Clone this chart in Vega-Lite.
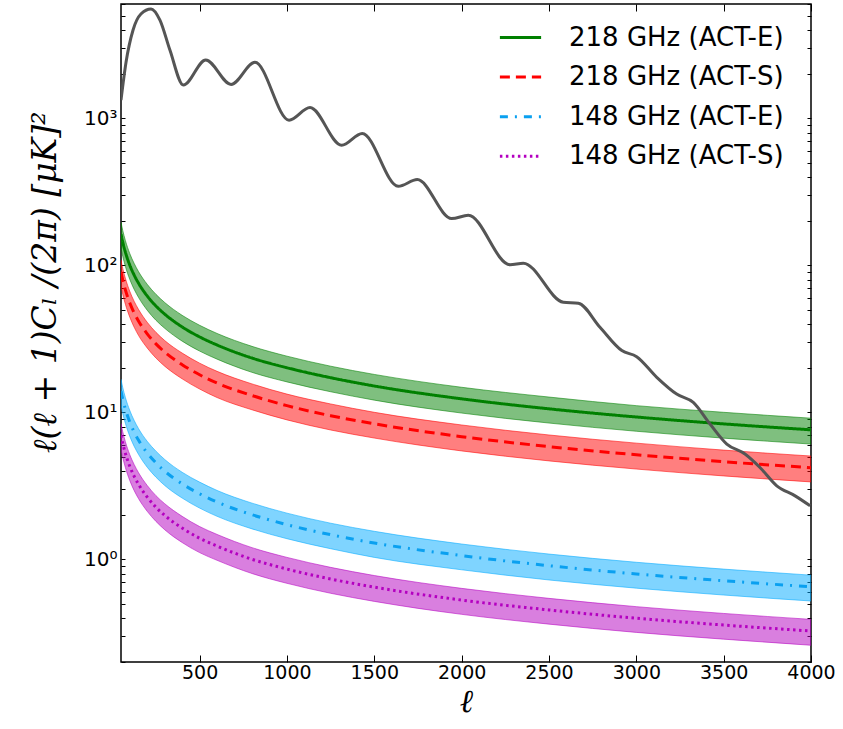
{
  "$schema": "https://vega.github.io/schema/vega-lite/v6.json",
  "width": 690,
  "height": 658,
  "autosize": {"type": "none"},
  "padding": {"left": 121, "top": 4, "right": 32, "bottom": 67},
  "background": "white",
  "config": {
    "font": "DejaVu Sans",
    "view": {"stroke": "black", "strokeWidth": 1.5},
    "axis": {
      "grid": false,
      "domain": false,
      "tickColor": "black",
      "tickWidth": 1,
      "labelColor": "black",
      "labelFont": "DejaVu Sans",
      "labelFontSize": 19,
      "titleColor": "black"
    },
    "legend": {
      "orient": "none",
      "legendX": 377,
      "legendY": 11,
      "title": null,
      "symbolType": "stroke",
      "symbolSize": 1700,
      "symbolStrokeWidth": 3,
      "labelFontSize": 26,
      "labelFont": "DejaVu Sans",
      "labelColor": "black",
      "labelOffset": 26,
      "labelLimit": 400,
      "rowPadding": 3.6
    }
  },
  "datasets": {
    "bands": [
      {"ell": 50, "series": "218 GHz (ACT-E)", "mid": 163, "lo": 130.6, "hi": 196},
      {"ell": 60, "series": "218 GHz (ACT-E)", "mid": 144, "lo": 115.2, "hi": 172.8},
      {"ell": 75, "series": "218 GHz (ACT-E)", "mid": 123, "lo": 98.4, "hi": 147.6},
      {"ell": 100, "series": "218 GHz (ACT-E)", "mid": 100.5, "lo": 80.4, "hi": 120.6},
      {"ell": 125, "series": "218 GHz (ACT-E)", "mid": 86, "lo": 68.8, "hi": 103.2},
      {"ell": 150, "series": "218 GHz (ACT-E)", "mid": 75.7, "lo": 60.6, "hi": 90.8},
      {"ell": 200, "series": "218 GHz (ACT-E)", "mid": 61.9, "lo": 49.5, "hi": 74.3},
      {"ell": 250, "series": "218 GHz (ACT-E)", "mid": 52.9, "lo": 42.3, "hi": 63.5},
      {"ell": 300, "series": "218 GHz (ACT-E)", "mid": 46.6, "lo": 37.3, "hi": 55.9},
      {"ell": 400, "series": "218 GHz (ACT-E)", "mid": 38.1, "lo": 30.5, "hi": 45.7},
      {"ell": 500, "series": "218 GHz (ACT-E)", "mid": 32.6, "lo": 26.1, "hi": 39.1},
      {"ell": 600, "series": "218 GHz (ACT-E)", "mid": 28.7, "lo": 23.0, "hi": 34.4},
      {"ell": 800, "series": "218 GHz (ACT-E)", "mid": 23.4, "lo": 18.7, "hi": 28.1},
      {"ell": 1000, "series": "218 GHz (ACT-E)", "mid": 20.1, "lo": 16.1, "hi": 24.1},
      {"ell": 1250, "series": "218 GHz (ACT-E)", "mid": 17.2, "lo": 13.8, "hi": 20.6},
      {"ell": 1500, "series": "218 GHz (ACT-E)", "mid": 15.1, "lo": 12.1, "hi": 18.1},
      {"ell": 2000, "series": "218 GHz (ACT-E)", "mid": 12.35, "lo": 9.88, "hi": 14.8},
      {"ell": 2500, "series": "218 GHz (ACT-E)", "mid": 10.56, "lo": 8.45, "hi": 12.7},
      {"ell": 3000, "series": "218 GHz (ACT-E)", "mid": 9.29, "lo": 7.43, "hi": 11.1},
      {"ell": 3500, "series": "218 GHz (ACT-E)", "mid": 8.34, "lo": 6.67, "hi": 10.0},
      {"ell": 4000, "series": "218 GHz (ACT-E)", "mid": 7.6, "lo": 6.08, "hi": 9.12},

      {"ell": 50, "series": "218 GHz (ACT-S)", "mid": 90.3, "lo": 72.2, "hi": 108.4},
      {"ell": 60, "series": "218 GHz (ACT-S)", "mid": 79.4, "lo": 63.5, "hi": 95.3},
      {"ell": 75, "series": "218 GHz (ACT-S)", "mid": 68.0, "lo": 54.4, "hi": 81.6},
      {"ell": 100, "series": "218 GHz (ACT-S)", "mid": 55.6, "lo": 44.5, "hi": 66.7},
      {"ell": 125, "series": "218 GHz (ACT-S)", "mid": 47.5, "lo": 38.0, "hi": 57.0},
      {"ell": 150, "series": "218 GHz (ACT-S)", "mid": 41.8, "lo": 33.4, "hi": 50.2},
      {"ell": 200, "series": "218 GHz (ACT-S)", "mid": 34.2, "lo": 27.4, "hi": 41.0},
      {"ell": 250, "series": "218 GHz (ACT-S)", "mid": 29.2, "lo": 23.4, "hi": 35.0},
      {"ell": 300, "series": "218 GHz (ACT-S)", "mid": 25.7, "lo": 20.6, "hi": 30.8},
      {"ell": 400, "series": "218 GHz (ACT-S)", "mid": 21.1, "lo": 16.9, "hi": 25.3},
      {"ell": 500, "series": "218 GHz (ACT-S)", "mid": 18.0, "lo": 14.4, "hi": 21.6},
      {"ell": 600, "series": "218 GHz (ACT-S)", "mid": 15.8, "lo": 12.6, "hi": 19.0},
      {"ell": 800, "series": "218 GHz (ACT-S)", "mid": 13.0, "lo": 10.4, "hi": 15.6},
      {"ell": 1000, "series": "218 GHz (ACT-S)", "mid": 11.1, "lo": 8.88, "hi": 13.3},
      {"ell": 1250, "series": "218 GHz (ACT-S)", "mid": 9.48, "lo": 7.58, "hi": 11.4},
      {"ell": 1500, "series": "218 GHz (ACT-S)", "mid": 8.35, "lo": 6.68, "hi": 10.0},
      {"ell": 2000, "series": "218 GHz (ACT-S)", "mid": 6.83, "lo": 5.46, "hi": 8.2},
      {"ell": 2500, "series": "218 GHz (ACT-S)", "mid": 5.84, "lo": 4.67, "hi": 7.01},
      {"ell": 3000, "series": "218 GHz (ACT-S)", "mid": 5.14, "lo": 4.11, "hi": 6.17},
      {"ell": 3500, "series": "218 GHz (ACT-S)", "mid": 4.61, "lo": 3.69, "hi": 5.53},
      {"ell": 4000, "series": "218 GHz (ACT-S)", "mid": 4.2, "lo": 3.36, "hi": 5.04},

      {"ell": 50, "series": "148 GHz (ACT-E)", "mid": 13.97, "lo": 11.18, "hi": 16.76},
      {"ell": 60, "series": "148 GHz (ACT-E)", "mid": 12.29, "lo": 9.83, "hi": 14.75},
      {"ell": 75, "series": "148 GHz (ACT-E)", "mid": 10.52, "lo": 8.42, "hi": 12.62},
      {"ell": 100, "series": "148 GHz (ACT-E)", "mid": 8.6, "lo": 6.88, "hi": 10.32},
      {"ell": 125, "series": "148 GHz (ACT-E)", "mid": 7.35, "lo": 5.88, "hi": 8.82},
      {"ell": 150, "series": "148 GHz (ACT-E)", "mid": 6.47, "lo": 5.18, "hi": 7.76},
      {"ell": 200, "series": "148 GHz (ACT-E)", "mid": 5.29, "lo": 4.23, "hi": 6.35},
      {"ell": 250, "series": "148 GHz (ACT-E)", "mid": 4.53, "lo": 3.62, "hi": 5.44},
      {"ell": 300, "series": "148 GHz (ACT-E)", "mid": 3.98, "lo": 3.18, "hi": 4.78},
      {"ell": 400, "series": "148 GHz (ACT-E)", "mid": 3.26, "lo": 2.61, "hi": 3.91},
      {"ell": 500, "series": "148 GHz (ACT-E)", "mid": 2.79, "lo": 2.23, "hi": 3.35},
      {"ell": 600, "series": "148 GHz (ACT-E)", "mid": 2.45, "lo": 1.96, "hi": 2.94},
      {"ell": 800, "series": "148 GHz (ACT-E)", "mid": 2.01, "lo": 1.61, "hi": 2.41},
      {"ell": 1000, "series": "148 GHz (ACT-E)", "mid": 1.72, "lo": 1.38, "hi": 2.06},
      {"ell": 1250, "series": "148 GHz (ACT-E)", "mid": 1.47, "lo": 1.18, "hi": 1.76},
      {"ell": 1500, "series": "148 GHz (ACT-E)", "mid": 1.29, "lo": 1.03, "hi": 1.55},
      {"ell": 2000, "series": "148 GHz (ACT-E)", "mid": 1.06, "lo": 0.848, "hi": 1.27},
      {"ell": 2500, "series": "148 GHz (ACT-E)", "mid": 0.904, "lo": 0.723, "hi": 1.085},
      {"ell": 3000, "series": "148 GHz (ACT-E)", "mid": 0.795, "lo": 0.636, "hi": 0.954},
      {"ell": 3500, "series": "148 GHz (ACT-E)", "mid": 0.714, "lo": 0.571, "hi": 0.857},
      {"ell": 4000, "series": "148 GHz (ACT-E)", "mid": 0.65, "lo": 0.52, "hi": 0.78},

      {"ell": 50, "series": "148 GHz (ACT-S)", "mid": 6.98, "lo": 5.58, "hi": 8.38},
      {"ell": 60, "series": "148 GHz (ACT-S)", "mid": 6.15, "lo": 4.92, "hi": 7.38},
      {"ell": 75, "series": "148 GHz (ACT-S)", "mid": 5.26, "lo": 4.21, "hi": 6.31},
      {"ell": 100, "series": "148 GHz (ACT-S)", "mid": 4.3, "lo": 3.44, "hi": 5.16},
      {"ell": 125, "series": "148 GHz (ACT-S)", "mid": 3.68, "lo": 2.94, "hi": 4.42},
      {"ell": 150, "series": "148 GHz (ACT-S)", "mid": 3.24, "lo": 2.59, "hi": 3.89},
      {"ell": 200, "series": "148 GHz (ACT-S)", "mid": 2.65, "lo": 2.12, "hi": 3.18},
      {"ell": 250, "series": "148 GHz (ACT-S)", "mid": 2.26, "lo": 1.81, "hi": 2.71},
      {"ell": 300, "series": "148 GHz (ACT-S)", "mid": 1.99, "lo": 1.59, "hi": 2.39},
      {"ell": 400, "series": "148 GHz (ACT-S)", "mid": 1.63, "lo": 1.3, "hi": 1.96},
      {"ell": 500, "series": "148 GHz (ACT-S)", "mid": 1.39, "lo": 1.11, "hi": 1.67},
      {"ell": 600, "series": "148 GHz (ACT-S)", "mid": 1.23, "lo": 0.984, "hi": 1.476},
      {"ell": 800, "series": "148 GHz (ACT-S)", "mid": 1.0, "lo": 0.8, "hi": 1.2},
      {"ell": 1000, "series": "148 GHz (ACT-S)", "mid": 0.858, "lo": 0.686, "hi": 1.03},
      {"ell": 1250, "series": "148 GHz (ACT-S)", "mid": 0.734, "lo": 0.587, "hi": 0.881},
      {"ell": 1500, "series": "148 GHz (ACT-S)", "mid": 0.646, "lo": 0.517, "hi": 0.775},
      {"ell": 2000, "series": "148 GHz (ACT-S)", "mid": 0.528, "lo": 0.422, "hi": 0.634},
      {"ell": 2500, "series": "148 GHz (ACT-S)", "mid": 0.452, "lo": 0.362, "hi": 0.542},
      {"ell": 3000, "series": "148 GHz (ACT-S)", "mid": 0.397, "lo": 0.318, "hi": 0.476},
      {"ell": 3500, "series": "148 GHz (ACT-S)", "mid": 0.357, "lo": 0.286, "hi": 0.428},
      {"ell": 4000, "series": "148 GHz (ACT-S)", "mid": 0.325, "lo": 0.26, "hi": 0.39}
    ],
    "cmb": [
      {"ell": 50, "dl": 1331},
      {"ell": 79, "dl": 2416},
      {"ell": 119, "dl": 3993},
      {"ell": 164, "dl": 5130},
      {"ell": 222, "dl": 5550},
      {"ell": 273, "dl": 4660},
      {"ell": 330, "dl": 2915},
      {"ell": 407, "dl": 1684},
      {"ell": 535, "dl": 2495},
      {"ell": 680, "dl": 1702},
      {"ell": 817, "dl": 2405},
      {"ell": 1012, "dl": 972},
      {"ell": 1132, "dl": 1186},
      {"ell": 1313, "dl": 656},
      {"ell": 1431, "dl": 789},
      {"ell": 1637, "dl": 345},
      {"ell": 1746, "dl": 383},
      {"ell": 1943, "dl": 208},
      {"ell": 2038, "dl": 219},
      {"ell": 2277, "dl": 101},
      {"ell": 2353, "dl": 103.5},
      {"ell": 2582, "dl": 56.1},
      {"ell": 2668, "dl": 55.2},
      {"ell": 2792, "dl": 37.9},
      {"ell": 2917, "dl": 26.3},
      {"ell": 3002, "dl": 23.9},
      {"ell": 3117, "dl": 17.3},
      {"ell": 3231, "dl": 13.3},
      {"ell": 3326, "dl": 11.68},
      {"ell": 3422, "dl": 8.32},
      {"ell": 3518, "dl": 6.08},
      {"ell": 3622, "dl": 5.2},
      {"ell": 3708, "dl": 4.21},
      {"ell": 3804, "dl": 3.16},
      {"ell": 3909, "dl": 2.7},
      {"ell": 3995, "dl": 2.31}
    ]
  },
  "layer": [
    {
      "data": {"name": "bands"},
      "mark": {"type": "area", "fillOpacity": 0.5, "strokeOpacity": 0.55, "strokeWidth": 1, "interpolate": "monotone", "clip": true},
      "encoding": {
        "x": {
          "field": "ell", "type": "quantitative",
          "scale": {"domain": [50, 4000], "nice": false, "zero": false},
          "axis": {
            "orient": "bottom",
            "values": [500, 1000, 1500, 2000, 2500, 3000, 3500, 4000],
            "format": "d",
            "labelFlush": false,
            "labelOverlap": false,
            "tickSize": -7,
            "labelPadding": 8,
            "title": "ℓ",
            "titleFont": "DejaVu Serif",
            "titleFontStyle": "italic",
            "titleFontWeight": "normal",
            "titleFontSize": 32,
            "titlePadding": 4
          }
        },
        "y": {
          "field": "lo", "type": "quantitative",
          "scale": {"type": "log", "domain": [0.2, 6000], "nice": false},
          "axis": {
            "orient": "left",
            "values": [0.2, 0.3, 0.4, 0.5, 0.6, 0.7, 0.8, 0.9, 1, 2, 3, 4, 5, 6, 7, 8, 9, 10, 20, 30, 40, 50, 60, 70, 80, 90, 100, 200, 300, 400, 500, 600, 700, 800, 900, 1000, 2000, 3000, 4000, 5000, 6000],
            "labelExpr": "datum.value == 1 ? '10⁰' : datum.value == 10 ? '10¹' : datum.value == 100 ? '10²' : datum.value == 1000 ? '10³' : ''",
            "tickSize": -4,
            "labelPadding": 8,
            "labelFontSize": 20,
            "title": "ℓ(ℓ + 1)Cₗ /(2π) [μK]²",
            "titleFont": "DejaVu Serif",
            "titleFontStyle": "italic",
            "titleFontWeight": "normal",
            "titleFontSize": 33,
            "titleAngle": -90,
            "titleX": -76,
            "titleY": 278,
            "titleAlign": "center",
            "titleBaseline": "middle"
          }
        },
        "y2": {"field": "hi"},
        "fill": {
          "field": "series", "type": "nominal",
          "scale": {
            "domain": ["148 GHz (ACT-S)", "148 GHz (ACT-E)", "218 GHz (ACT-S)", "218 GHz (ACT-E)"],
            "range": ["#b400c0", "#00aaff", "#ff0000", "#008000"]
          },
          "legend": null
        },
        "stroke": {
          "field": "series", "type": "nominal",
          "scale": {
            "domain": ["148 GHz (ACT-S)", "148 GHz (ACT-E)", "218 GHz (ACT-S)", "218 GHz (ACT-E)"],
            "range": ["#b400c0", "#00aaff", "#ff0000", "#008000"]
          },
          "legend": null
        }
      }
    },
    {
      "data": {"name": "bands"},
      "mark": {"type": "line", "strokeWidth": 3, "interpolate": "monotone", "clip": true},
      "encoding": {
        "x": {"field": "ell", "type": "quantitative", "axis": null},
        "y": {"field": "mid", "type": "quantitative", "axis": null},
        "color": {
          "field": "series", "type": "nominal",
          "scale": {
            "domain": ["218 GHz (ACT-E)", "218 GHz (ACT-S)", "148 GHz (ACT-E)", "148 GHz (ACT-S)"],
            "range": ["#008000", "#ff0000", "#0aa0f0", "#b400c0"]
          }
        },
        "strokeDash": {
          "field": "series", "type": "nominal",
          "scale": {
            "domain": ["218 GHz (ACT-E)", "218 GHz (ACT-S)", "148 GHz (ACT-E)", "148 GHz (ACT-S)"],
            "range": [[1, 0], [10, 6], [8, 7, 2, 7], [2.5, 3.5]]
          }
        }
      }
    },
    {
      "data": {"name": "cmb"},
      "mark": {"type": "line", "color": "#555555", "strokeWidth": 3, "interpolate": "monotone", "clip": true},
      "encoding": {
        "x": {
          "field": "ell", "type": "quantitative",
          "axis": {"orient": "top", "values": [500, 1000, 1500, 2000, 2500, 3000, 3500, 4000], "tickSize": -7, "labels": false, "title": null}
        },
        "y": {
          "field": "dl", "type": "quantitative",
          "axis": {
            "orient": "right",
            "values": [0.2, 0.3, 0.4, 0.5, 0.6, 0.7, 0.8, 0.9, 1, 2, 3, 4, 5, 6, 7, 8, 9, 10, 20, 30, 40, 50, 60, 70, 80, 90, 100, 200, 300, 400, 500, 600, 700, 800, 900, 1000, 2000, 3000, 4000, 5000, 6000],
            "tickSize": -4, "labels": false, "title": null
          }
        }
      }
    }
  ],
  "resolve": {"axis": {"x": "independent", "y": "independent"}}
}
